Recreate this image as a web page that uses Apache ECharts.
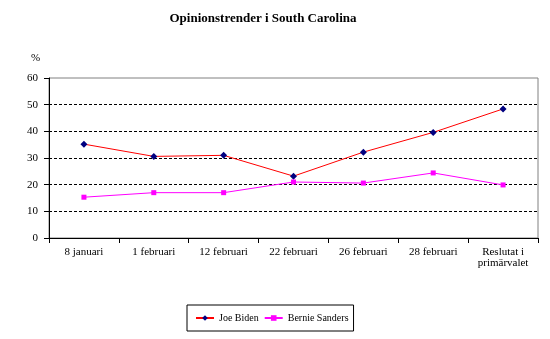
<!DOCTYPE html>
<html><head><meta charset="utf-8">
<script src="https://cdn.jsdelivr.net/npm/echarts@6/dist/echarts.min.js"></script>
<style>html,body{margin:0;padding:0;background:#fff}#c{width:550px;height:339px}</style>
</head><body><div id="c"></div>
<script>
const categories = ['8 januari','1 februari','12 februari','22 februari','26 februari','28 februari','Reslutat i\nprimärvalet'];
const biden = [35.2, 30.6, 31.0, 23.2, 32.2, 39.6, 48.4];
const sanders = [15.3, 17.0, 17.0, 21.0, 20.6, 24.4, 19.9];
const yTicks = {min: 0, max: 60, interval: 10};
const F = 'Liberation Serif, Times New Roman, serif';
const chart = echarts.init(document.getElementById('c'), null, {renderer: 'canvas'});
chart.setOption({
  backgroundColor: '#fff',
  animation: false,
  title: {text: 'Opinionstrender i South Carolina', left: 258, textAlign: 'center', top: 7,
    textStyle: {fontFamily: F, fontSize: 13, fontWeight: 'bold', color: '#000'}},
  grid: {left: 49, right: 12, top: 78, bottom: 101, show: true, borderColor: '#808080', borderWidth: 1},
  legend: {top: 305, left: 187, itemWidth: 18, itemHeight: 7, itemGap: 5,
    borderColor: '#000', borderWidth: 1, padding: [8, 5, 8, 8],
    textStyle: {fontFamily: F, fontSize: 10, color: '#000'}},
  xAxis: {type: 'category', data: categories, boundaryGap: true,
    axisLine: {lineStyle: {color: '#000'}},
    axisTick: {show: true, length: 5, lineStyle: {color: '#000'}},
    axisLabel: {fontFamily: F, fontSize: 11, color: '#000', margin: 9, interval: 0, lineHeight: 11},
    splitLine: {show: false}},
  yAxis: {type: 'value', min: yTicks.min, max: yTicks.max, interval: yTicks.interval,
    name: '%', nameLocation: 'end', nameGap: 14,
    nameTextStyle: {fontFamily: F, fontSize: 11, color: '#000', padding: [0, 27, 0, 0]},
    axisLine: {show: true, lineStyle: {color: '#000'}},
    axisTick: {show: true, length: 5, lineStyle: {color: '#000'}},
    axisLabel: {fontFamily: F, fontSize: 11, color: '#000', margin: 11},
    splitLine: {show: true, lineStyle: {type: [3, 2], width: 1,
      color: ['transparent', '#000', '#000', '#000', '#000', '#000', 'transparent']}}},
  series: [
    {name: 'Joe Biden', type: 'line', data: biden, symbol: 'diamond', symbolSize: 7,
      itemStyle: {color: '#000080'}, lineStyle: {color: '#ff0000', width: 1}},
    {name: 'Bernie Sanders', type: 'line', data: sanders, symbol: 'rect', symbolSize: 5,
      itemStyle: {color: '#ff00ff'}, lineStyle: {color: '#ff00ff', width: 1}}
  ]
});
</script></body></html>
